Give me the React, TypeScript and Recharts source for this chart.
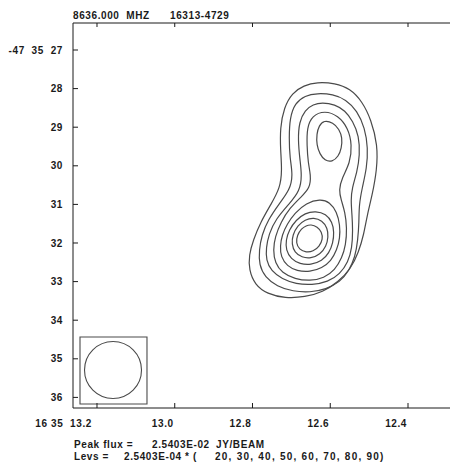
import React from 'react';
import {
  ComposedChart,
  Scatter,
  XAxis,
  YAxis,
  ReferenceArea,
  ReferenceDot,
} from 'recharts';

// axis ticks (RA seconds of 16h35m, Dec arcsec of -47d35')
const RA_TICKS = [13.2, 13.0, 12.8, 12.6, 12.4];
const RA_LABELS = ['16 35  13.2', '13.0', '12.8', '12.6', '12.4'];
const DEC_TICKS = [27, 28, 29, 30, 31, 32, 33, 34, 35, 36];
const DEC_LABELS = ['-47  35  27', '28', '29', '30', '31', '32', '33', '34', '35', '36'];

const RA_DOMAIN = [12.292, 13.2617];
const DEC_DOMAIN = [26.3005, 36.2747];

// header / footer text
const FREQ = '8636.000  MHZ';
const SOURCE = '16313-4729';
const PEAK_FLUX = '2.5403E-02';
const LEV_BASE = '2.5403E-04';
const LEVELS = [20, 30, 40, 50, 60, 70, 80, 90];

// beam
const BEAM_BOX_RA = [13.2437, 13.0714];
const BEAM_BOX_DEC = [34.435, 36.171];
const BEAM_CENTER = [13.1588, 35.29];

// contours, [ra, dec]
const C20: [number, number][] = [
  [12.634, 27.83], [12.588, 27.86], [12.549, 28.0], [12.518, 28.33], [12.495, 28.8],
  [12.478, 29.461], [12.48, 30.109], [12.492, 30.757], [12.505, 31.275], [12.514, 31.793],
  [12.527, 32.233], [12.547, 32.67], [12.58, 33.01], [12.619, 33.27], [12.665, 33.4],
  [12.716, 33.43], [12.762, 33.32], [12.794, 33.08], [12.809, 32.7], [12.809, 32.311],
  [12.798, 31.922], [12.779, 31.456], [12.752, 30.99], [12.729, 30.575], [12.724, 30.109],
  [12.728, 29.591], [12.729, 29.021], [12.719, 28.49], [12.698, 28.11], [12.668, 27.92],
];
const C30: [number, number][] = [
  [12.634, 28.12], [12.593, 28.146], [12.56, 28.28], [12.531, 28.57], [12.511, 29.021],
  [12.503, 29.539], [12.506, 30.057], [12.518, 30.575], [12.526, 31.016], [12.526, 31.456],
  [12.529, 31.922], [12.536, 32.363], [12.552, 32.725], [12.575, 33.01], [12.611, 33.2],
  [12.652, 33.28], [12.696, 33.255], [12.737, 33.124], [12.768, 32.881], [12.783, 32.57],
  [12.783, 32.181], [12.776, 31.793], [12.76, 31.404], [12.732, 30.99], [12.704, 30.627],
  [12.696, 30.238], [12.704, 29.798], [12.706, 29.28], [12.704, 28.762], [12.691, 28.38],
  [12.665, 28.18],
];
const C40: [number, number][] = [
  [12.621, 28.36], [12.588, 28.41], [12.562, 28.57], [12.542, 28.839], [12.526, 29.228],
  [12.524, 29.72], [12.531, 30.161], [12.544, 30.575], [12.547, 30.886], [12.544, 31.275],
  [12.542, 31.663], [12.544, 32.13], [12.554, 32.492], [12.575, 32.803], [12.606, 33.01],
  [12.647, 33.088], [12.688, 33.062], [12.724, 32.933], [12.752, 32.725], [12.765, 32.44],
  [12.765, 32.13], [12.758, 31.767], [12.74, 31.378], [12.706, 30.99], [12.678, 30.653],
  [12.673, 30.238], [12.678, 29.85], [12.683, 29.332], [12.68, 28.865], [12.665, 28.554],
  [12.644, 28.41],
];
const C50: [number, number][] = [
  [12.614, 28.57], [12.58, 28.7], [12.554, 29.021], [12.544, 29.461], [12.549, 29.928],
  [12.57, 30.316], [12.578, 30.627], [12.572, 30.886], [12.562, 31.197], [12.557, 31.611],
  [12.56, 32.052], [12.57, 32.389], [12.588, 32.7], [12.616, 32.907], [12.652, 32.985],
  [12.691, 32.933], [12.724, 32.777], [12.742, 32.518], [12.747, 32.181], [12.742, 31.845],
  [12.727, 31.456], [12.704, 31.093], [12.675, 30.808], [12.652, 30.575], [12.65, 30.238],
  [12.657, 29.928], [12.66, 29.461], [12.66, 29.021], [12.647, 28.7],
];
const C60N: [number, number][] = [
  [12.616, 28.82], [12.593, 28.88], [12.577, 29.047], [12.569, 29.28], [12.571, 29.539],
  [12.579, 29.76], [12.595, 29.9], [12.614, 29.87], [12.627, 29.694], [12.635, 29.461],
  [12.635, 29.176], [12.629, 28.96],
];
const C60S: [number, number][] = [
  [12.626, 30.86], [12.601, 30.938], [12.583, 31.197], [12.575, 31.534], [12.575, 31.87],
  [12.583, 32.181], [12.598, 32.466], [12.621, 32.648], [12.652, 32.751], [12.686, 32.725],
  [12.711, 32.596], [12.727, 32.363], [12.729, 32.078], [12.724, 31.793], [12.711, 31.508],
  [12.691, 31.223], [12.662, 30.964],
];
const C70: [number, number][] = [
  [12.637, 31.171], [12.611, 31.249], [12.595, 31.456], [12.59, 31.715], [12.593, 32.0],
  [12.603, 32.259], [12.621, 32.466], [12.65, 32.57], [12.678, 32.544], [12.701, 32.415],
  [12.714, 32.181], [12.714, 31.922], [12.706, 31.663], [12.688, 31.404], [12.665, 31.223],
];
const C80: [number, number][] = [
  [12.642, 31.34], [12.621, 31.42], [12.607, 31.611], [12.605, 31.845], [12.61, 32.078],
  [12.626, 32.295], [12.65, 32.4], [12.673, 32.373], [12.692, 32.243], [12.699, 32.026],
  [12.697, 31.793], [12.684, 31.55], [12.665, 31.394],
];
const C90: [number, number][] = [
  [12.65, 31.52], [12.633, 31.576], [12.622, 31.715], [12.619, 31.896], [12.628, 32.088],
  [12.644, 32.22], [12.662, 32.246], [12.68, 32.166], [12.688, 32.0], [12.685, 31.793],
  [12.674, 31.627], [12.662, 31.55],
];

const CONTOURS = [C20, C30, C40, C50, C60N, C60S, C70, C80, C90];

const INK = '#1a1a1a';
const LINE = '#4a4a4a';
const FONT = "'Liberation Sans', Arial, sans-serif";
const txt = { fontFamily: FONT, fontSize: 10, fontWeight: 700, fill: INK, letterSpacing: 0.6 } as const;

const BottomTick = ({ x, y, payload, index }: any) => (
  <g>
    <line x1={x} x2={x} y1={y} y2={y - 5} stroke={INK} />
    <text x={x - (index === 0 ? 5 : 1)} y={y + 19} textAnchor="end" style={{ ...txt, whiteSpace: 'pre' }}>
      {RA_LABELS[index] ?? payload.value}
    </text>
  </g>
);

const TopTick = ({ x, y }: any) => (
  <line x1={x} x2={x} y1={y} y2={y + 4} stroke={INK} />
);

const LeftTick = ({ x, y, payload, index }: any) => (
  <g>
    <line x1={x} x2={x + 5} y1={y} y2={y} stroke={INK} />
    <text x={x - 10} y={y + 3.6} textAnchor="end" style={{ ...txt, whiteSpace: 'pre' }}>
      {DEC_LABELS[index] ?? payload.value}
    </text>
  </g>
);

const noDot = () => <g />;

export default function App() {
  return (
    <div style={{ position: 'relative', width: 450, height: 468, background: '#fff' }}>
      <style>{'body{margin:0}'}</style>
      <ComposedChart width={450} height={468} margin={{ top: 0, right: 0, bottom: 0, left: 0 }}>
        <XAxis
          xAxisId="top"
          orientation="top"
          type="number"
          dataKey="ra"
          domain={RA_DOMAIN}
          reversed
          allowDataOverflow
          ticks={RA_TICKS}
          height={23}
          tickSize={0}
          tickMargin={0}
          tickLine={false}
          tick={<TopTick />}
          axisLine={{ stroke: INK }}
        />
        <XAxis
          type="number"
          dataKey="ra"
          domain={RA_DOMAIN}
          reversed
          allowDataOverflow
          ticks={RA_TICKS}
          height={60}
          tickSize={0}
          tickMargin={0}
          tickLine={false}
          tick={<BottomTick />}
          axisLine={{ stroke: INK }}
          interval={0}
        />
        <YAxis
          type="number"
          dataKey="dec"
          domain={DEC_DOMAIN}
          reversed
          allowDataOverflow
          ticks={DEC_TICKS}
          width={73}
          tickSize={0}
          tickMargin={0}
          tickLine={false}
          tick={<LeftTick />}
          axisLine={{ stroke: INK }}
          interval={0}
        />
        {CONTOURS.map((c, i) => (
          <Scatter
            key={i}
            data={c.map(([ra, dec]) => ({ ra, dec }))}
            line={{ stroke: LINE, strokeWidth: 1.2, fill: 'none' }}
            lineJointType="basisClosed"
            shape={noDot}
            isAnimationActive={false}
            legendType="none"
          />
        ))}
        <ReferenceArea
          x1={BEAM_BOX_RA[0]}
          x2={BEAM_BOX_RA[1]}
          y1={BEAM_BOX_DEC[0]}
          y2={BEAM_BOX_DEC[1]}
          fill="none"
          fillOpacity={0}
          stroke={LINE}
          strokeWidth={1.1}
        />
        <ReferenceDot
          x={BEAM_CENTER[0]}
          y={BEAM_CENTER[1]}
          r={28.5}
          fill="none"
          stroke={LINE}
          strokeWidth={1.1}
        />
      </ComposedChart>
      <svg
        width={450}
        height={468}
        style={{ position: 'absolute', left: 0, top: 0, pointerEvents: 'none' }}
      >
        <text x={73} y={19} style={{ ...txt, whiteSpace: 'pre' }}>{FREQ}</text>
        <text x={170} y={19} style={txt}>{SOURCE}</text>
        <text x={74} y={448} style={txt}>Peak flux =</text>
        <text x={152} y={448} style={txt}>{PEAK_FLUX}</text>
        <text x={216} y={448} style={txt}>JY/BEAM</text>
        <text x={74} y={460} style={txt}>Levs =</text>
        <text x={124} y={460} style={{ ...txt, whiteSpace: 'pre' }}>{`${LEV_BASE} * (`}</text>
        <text x={215} y={460} style={txt} textLength={169} lengthAdjust="spacing">
          {LEVELS.join(', ') + ')'}
        </text>
      </svg>
    </div>
  );
}
